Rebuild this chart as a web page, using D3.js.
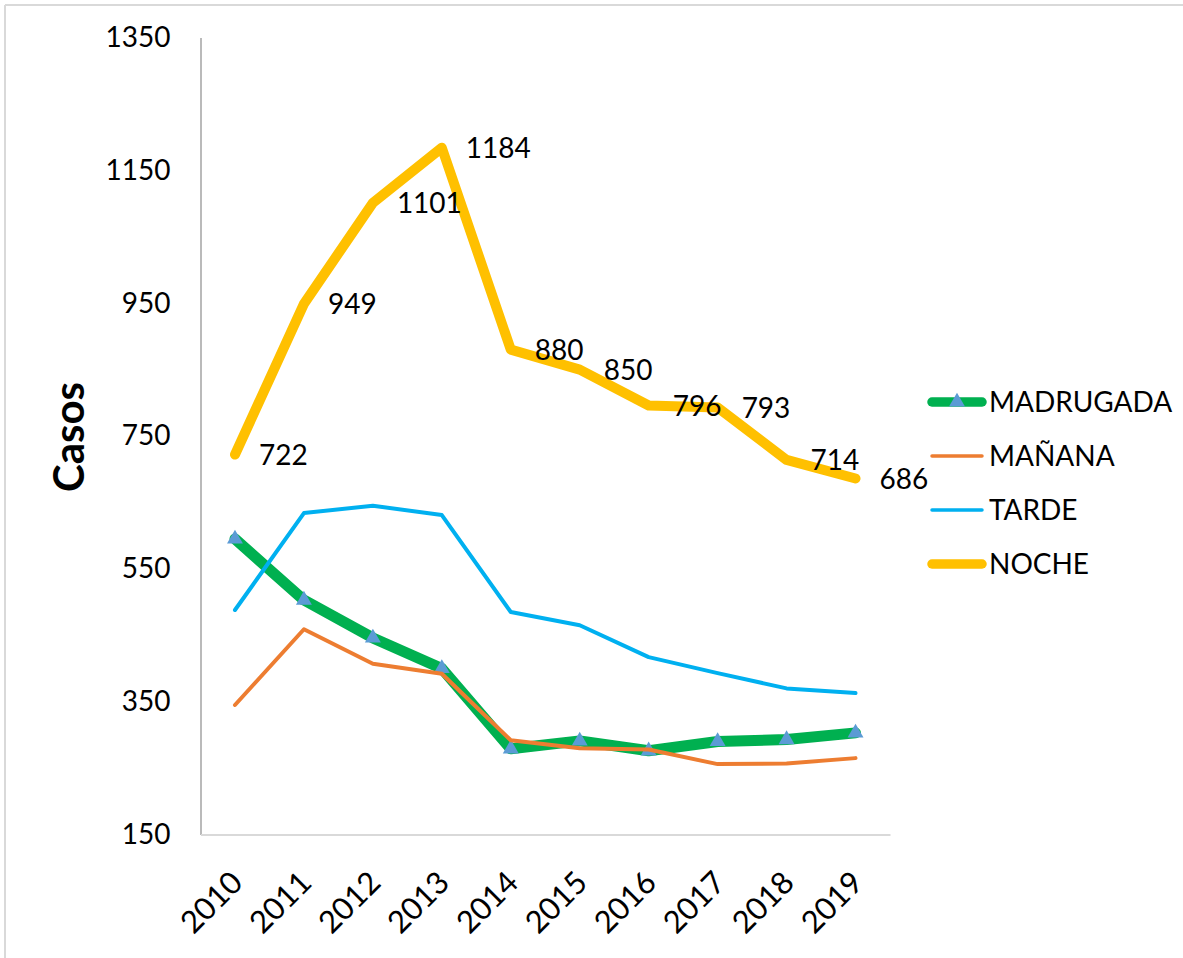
<!DOCTYPE html>
<html>
<head>
<meta charset="utf-8">
<script src="https://cdn.jsdelivr.net/npm/d3@7"></script>
<style>
  html, body { margin: 0; padding: 0; background: #fff; }
  svg { display: block; }
  svg text { font-family: Lato, "Open Sans", sans-serif; }
</style>
</head>
<body>
<svg id="chart" width="1183" height="958"></svg>
<script>
// Casos por franja horaria, 2010-2019
const years = ["2010", "2011", "2012", "2013", "2014", "2015", "2016", "2017", "2018", "2019"];
const madrugada = [595, 503, 446, 400, 279, 291, 276, 290, 293, 303];
const manana    = [345, 459, 407, 392, 292, 280, 278, 256, 257, 265];
const tarde     = [488, 634, 645, 631, 485, 465, 417, 393, 370, 363];
const noche     = [722, 949, 1101, 1184, 880, 850, 796, 793, 714, 686];
const yTicks    = [150, 350, 550, 750, 950, 1150, 1350];
const seriesNames = ["MADRUGADA", "MAÑANA", "TARDE", "NOCHE"];

const series = [
  { name: seriesNames[0], values: madrugada, color: "#00B050", width: 11, marker: true },
  { name: seriesNames[1], values: manana,    color: "#ED7D31", width: 4 },
  { name: seriesNames[2], values: tarde,     color: "#00B0F0", width: 4 },
  { name: seriesNames[3], values: noche,     color: "#FFC000", width: 10, labels: true }
];

const FONT = 28;
const svg = d3.select("#chart");

// frame
svg.append("line").attr("x1", 5).attr("y1", 5).attr("x2", 1183).attr("y2", 5)
  .attr("stroke", "#d9d9d9").attr("stroke-width", 2);
svg.append("line").attr("x1", 5).attr("y1", 5).attr("x2", 5).attr("y2", 958)
  .attr("stroke", "#d9d9d9").attr("stroke-width", 2);

const x = d3.scalePoint().domain(years).range([200.5, 890]).padding(0.5);
const y = d3.scaleLinear().domain([150, 1350]).range([834.5, 37.5]);

// axes
const yAxis = svg.append("g").attr("transform", "translate(200.5,0)")
  .call(d3.axisLeft(y).tickValues(yTicks).tickFormat(d3.format("d")).tickSize(0).tickPadding(30));
yAxis.attr("font-family", null).attr("font-size", null);
yAxis.select(".domain").attr("stroke", "#8c8c8c").attr("stroke-width", 1.2);
yAxis.selectAll("text").style("font-size", FONT + "px").attr("fill", "#000");

const xAxis = svg.append("g").attr("transform", "translate(0,834.5)")
  .call(d3.axisBottom(x).tickSize(0).tickSizeOuter(0));
xAxis.attr("font-family", null).attr("font-size", null);
xAxis.select(".domain").attr("stroke", "#d9d9d9").attr("stroke-width", 2);
xAxis.selectAll("text")
  .style("font-size", "31px").attr("fill", "#000")
  .attr("text-anchor", "end")
  .attr("x", 0).attr("y", 0).attr("dy", 0)
  .attr("transform", "translate(9,50) rotate(-45)");

// y axis title
svg.append("text")
  .attr("transform", "translate(84,437) rotate(-90)")
  .attr("text-anchor", "middle")
  .style("font-size", "42px").attr("font-weight", "bold")
  .text("Casos");

// lines
const line = d3.line().x((d, i) => x(years[i])).y(d => y(d));
series.forEach(s => {
  svg.append("path")
    .datum(s.values)
    .attr("d", line)
    .attr("fill", "none")
    .attr("stroke", s.color)
    .attr("stroke-width", s.width)
    .attr("stroke-linejoin", "round")
    .attr("stroke-linecap", "round");
  if (s.marker) {
    svg.append("g").selectAll("path")
      .data(s.values)
      .join("path")
      .attr("d", d3.symbol(d3.symbolTriangle, 110))
      .attr("transform", (d, i) => `translate(${x(years[i])},${y(d)})`)
      .attr("fill", "#5B9BD5");
  }
  if (s.labels) {
    svg.append("g").selectAll("text")
      .data(s.values)
      .join("text")
      .attr("x", (d, i) => x(years[i]) + 24)
      .attr("y", d => y(d))
      .attr("dy", "0.36em")
      .style("font-size", FONT + "px")
      .attr("fill", "#000")
      .text(d => d);
  }
});

// legend
const legend = svg.append("g");
series.forEach((s, i) => {
  const ly = 402 + i * 54;
  legend.append("line")
    .attr("x1", 932).attr("x2", 982)
    .attr("y1", ly).attr("y2", ly)
    .attr("stroke", s.color).attr("stroke-width", s.width > 5 ? 9.5 : 3.5)
    .attr("stroke-linecap", "round");
  if (s.marker) {
    legend.append("path")
      .attr("d", d3.symbol(d3.symbolTriangle, 110))
      .attr("transform", `translate(957,${ly})`)
      .attr("fill", "#5B9BD5");
  }
  legend.append("text")
    .attr("x", 989).attr("y", ly).attr("dy", "0.36em")
    .style("font-size", FONT + "px").attr("fill", "#000")
    .text(s.name);
});
</script>
</body>
</html>
